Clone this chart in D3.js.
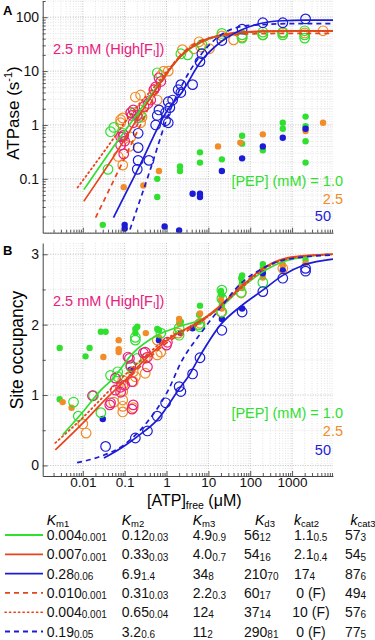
<!DOCTYPE html>
<html><head><meta charset="utf-8">
<script src="https://cdn.jsdelivr.net/npm/d3@7"></script>
<style>body{margin:0;background:#fff}svg{display:block;font-family:"Liberation Sans",Arial,sans-serif}</style>
</head><body><svg id="c" width="375" height="640"></svg>
<script>
// ---------- tick labels ----------
const xTickValues=[0.01,0.1,1,10,100,1000];
const xTickLabels=["0.01","0.1","1","10","100","1000"];
const yATickValues=[0.1,1,10,100];
const yATickLabels=["0.1","1","10","100"];
const yBTickValues=[0,1,2,3];
const yBTickLabels=["0","1","2","3"];
const yBMinorTicks=[0.5,1.5,2.5];

// ---------- Panel A: ATPase (s^-1) vs [ATP]free (uM) ----------
const aOpenGreen=[[0.04,0.15],[0.046,0.75],[0.055,0.9],[0.09,0.7],[0.17,1.7],[0.21,1.35],[0.24,1.5],[0.6,9.3],[2.2,21],[3.2,20],[7,31],[21,50],[64,47],[64,41],[200,53],[200,47],[600,53],[600,47],[2000,56],[2000,47],[2000,41]];
const aOpenOrange=[[0.07,0.26],[0.09,0.18],[0.08,1.1],[0.08,1.25],[0.09,1.35],[0.13,0.4],[0.14,0.6],[0.14,1.7],[0.18,3.3],[0.24,3.6],[0.24,1.9],[0.24,1.1],[0.26,1.4],[0.5,4.5],[0.6,2.9],[0.73,8.3],[0.86,10],[1.1,10],[2.4,25],[4.5,26],[6,35],[6.6,28],[10.6,26],[21,45],[40,38],[64,43],[200,47],[600,51],[2000,51],[5500,56]];
const aOpenMagenta=[[0.08,0.42],[0.095,0.29],[0.09,0.6],[0.095,0.65],[0.1,0.5],[0.08,0.6],[0.14,1.7],[0.15,1.5],[0.16,1.1],[0.16,1.9],[0.2,1.5],[0.29,2.2],[0.36,2.5],[0.42,2.9],[0.5,4.5],[0.55,5.1],[0.66,7.5],[0.73,6.4]];
const aOpenBlue=[[0.2,0.15],[0.21,0.22],[0.38,0.22],[0.21,0.38],[0.21,0.7],[0.55,1.0],[0.6,1.5],[0.66,1.9],[0.95,1.2],[0.95,1.7],[1.1,1.1],[1.1,2.7],[1.2,2.1],[1.4,2.9],[1.9,4.5],[2.2,4],[2.2,5.6],[4.2,5.6],[6.3,15],[7,21],[21,37],[64,60],[200,79],[600,79],[2100,93]];
const aDotGreen=[[0.03,0.014],[0.6,0.046],[0.6,0.1],[2.1,0.14],[2.1,0.17],[6.3,0.2],[6.3,0.31],[21,0.23],[64,0.45],[64,0.63],[200,0.34],[600,0.85],[600,1.1],[2100,0.2],[2100,0.5],[2100,0.95],[2100,1.43]];
const aDotOrange=[[0.095,0.07],[0.28,0.075],[0.66,0.14],[17,0.4],[58,0.47],[200,0.67],[2100,0.77],[5500,1.1]];
const aDotBlue=[[0.1,0.012],[0.1,0.014],[0.9,0.013],[2.0,0.011],[4.2,0.053],[6.3,0.046],[6.3,0.053],[21,0.14],[64,0.24],[200,0.4],[600,0.58],[2100,0.85]];
const aCurveGreen=[[0.0106,0.063],[0.067,0.5],[0.2,1.6],[0.5,4.3],[1.1,10],[2.2,19],[6.6,34],[20,46],[60,52],[200,54],[1000,55],[9500,55]];
const aCurveRed=[[0.0106,0.0385],[0.088,0.46],[0.2,1.3],[0.5,4.0],[1.1,9.8],[2.2,19],[6.6,35],[20,47],[60,53],[200,55],[1000,56],[9500,56]];
const aCurveRedDash=[[0.0202,0.019],[0.088,0.2],[0.2,0.75],[0.5,3.3],[1.1,10],[2.2,20],[5,33],[20,45],[100,49],[1000,50],[9500,50]];
const aCurveRedDot=[[0.0075,0.069],[0.0515,0.53],[0.15,1.7],[0.5,5],[1.1,10.5],[2.2,19.5],[6.6,34],[20,46],[100,53],[1000,55],[9500,55]];
const aCurveBlue=[[0.054,0.019],[0.24,0.19],[1.06,1.9],[2.2,3.8],[6.6,15],[20,35],[61,58],[200,78],[600,86],[2000,88],[9500,88]];
const aCurveBlueDash=[[0.134,0.0115],[0.4,0.14],[1.15,1.67],[2.2,5],[6.6,20],[20,47],[60,67],[200,73],[1000,76],[9500,76]];

// ---------- Panel B: Site occupancy vs [ATP]free (uM) ----------
const bOpenGreen=[[0.006,0.9],[0.0078,0.7],[0.018,0.99],[0.027,0.75],[0.046,1.28],[0.068,1.33],[0.068,1.26],[0.14,1.4],[0.18,1.82],[0.18,1.78],[0.2,1.52],[0.73,1.88],[2.0,1.95],[2.0,1.85],[6.3,1.97],[6,2.0],[21,2.18],[21,2.37],[21,2.49],[61,2.46],[200,2.6]];
const bOpenOrange=[[0.01,0.59],[0.012,0.46],[0.055,0.9],[0.09,0.76],[0.09,0.84],[0.09,0.93],[0.09,1.05],[0.09,1.14],[0.09,1.21],[0.16,0.82],[0.16,1.19],[0.16,1.33],[0.18,1.26],[0.31,1.31],[0.31,1.52],[0.6,1.57],[0.6,1.78],[0.73,1.61],[1.9,1.88],[6.3,2.02],[20,2.18],[61,2.45],[600,2.8]];
const bOpenMagenta=[[0.017,0.99],[0.044,0.86],[0.046,0.89],[0.06,1.07],[0.06,1.24],[0.08,1.04],[0.08,1.11],[0.1,1.14],[0.12,1.54],[0.13,1.52],[0.14,1.42],[0.15,0.8],[0.15,1.19],[0.16,0.86],[0.28,1.6],[0.31,1.61],[0.35,1.54],[0.35,1.4],[1.0,1.71],[1.05,1.75]];
const bOpenBlue=[[0.035,0.27],[0.18,0.39],[0.35,0.49],[0.6,0.7],[0.95,0.89],[2.0,1.12],[2.2,1.05],[4.2,1.3],[6.3,1.53],[21,1.92],[64,2.18],[200,2.47],[600,2.66],[2100,2.76],[2100,2.8]];
const bDotGreen=[[0.0028,0.94],[0.0028,1.67],[0.0116,1.55],[0.0145,1.67],[0.027,1.9],[0.035,1.9],[0.18,1.88],[0.18,1.94],[0.2,1.97],[0.6,1.94],[0.66,1.92],[2.2,2.04],[6,2.04],[6,2.14],[6.3,2.27],[20,2.43],[20,2.48],[21,2.28],[21,2.42],[61,2.55],[61,2.66],[64,2.52],[64,2.6],[64,2.7],[200,2.8],[200,2.86],[600,2.85],[2100,2.92]];
const bDotOrange=[[0.0033,0.9],[0.0054,0.82],[0.031,1.54],[0.072,1.61],[0.072,1.65],[0.072,1.78],[0.32,1.88],[0.66,1.82],[2.0,2.02],[2.0,2.08],[6.3,2.16],[20,2.35],[21,2.23],[61,2.53],[200,2.67],[200,2.76],[600,2.84],[2100,2.87]];
const bDotBlue=[[0.03,0.66],[0.14,1.36],[0.66,1.78],[2.2,1.88],[4.2,1.95],[21,2.08],[64,2.23],[200,2.73],[600,2.77]];
const bCurveGreen=[[0.0033,0.435],[0.01,0.76],[0.027,1.07],[0.05,1.22],[0.16,1.6],[0.6,1.85],[2.2,1.98],[6.6,2.07],[20,2.25],[61,2.52],[200,2.75],[650,2.9],[2000,2.96],[9500,3.0]];
const bCurveRed=[[0.0022,0.22],[0.01,0.6],[0.03,0.9],[0.106,1.22],[0.35,1.54],[1.05,1.78],[3.8,1.98],[6.6,2.06],[20,2.28],[61,2.54],[200,2.8],[650,2.94],[2000,2.98],[9500,3.0]];
const bCurveRedDash=[[0.1,1.18],[0.35,1.5],[1,1.74],[4,1.95],[10,2.12],[61,2.55],[200,2.8],[1000,2.95],[9500,3.0]];
const bCurveRedDot=[[0.0022,0.32],[0.01,0.68],[0.03,0.97],[0.1,1.28],[0.35,1.58],[1,1.8],[4,1.97],[10,2.12],[61,2.52],[200,2.78],[1000,2.95],[9500,3.0]];
const bCurveBlue=[[0.032,0.105],[0.1,0.28],[0.2,0.41],[0.61,0.65],[2.2,1.12],[3.2,1.25],[6.5,1.57],[19.6,2.0],[59,2.26],[200,2.49],[600,2.7],[2000,2.85],[9500,2.93]];
const bCurveBlueDash=[[0.0073,0.04],[0.024,0.12],[0.095,0.29],[0.35,0.62],[1.1,1.07],[2.2,1.46],[6.6,1.88],[20,2.25],[61,2.59],[200,2.8],[650,2.92],[9500,2.99]];

// ---------- Table ----------
const tableHeadMain=["K","K","K","K","k","k"];
const tableHeadSub=["m1","m2","m3","d3","cat2","cat3"];
const km1=["0.004","0.007","0.28","0.010","0.004","0.19"], km1Err=["0.001","0.001","0.06","0.001","0.001","0.05"];
const km2=["0.12","0.33","6.9","0.31","0.65","3.2"], km2Err=["0.03","0.03","1.4","0.03","0.04","0.6"];
const km3=["4.9","4.0","34","2.2","12","11"], km3Err=["0.9","0.7","8","0.3","4","2"];
const kd3=["56","54","210","60","37","290"], kd3Err=["12","16","70","17","14","81"];
const kcat2=["1.1","2.1","17","0 (F)","10 (F)","0 (F)"], kcat2Err=["0.5","0.4","4","","",""];
const kcat3=["57","54","87","49","57","77"], kcat3Err=["3","5","6","4","6","5"];

// ---------- styles ----------
const C={green:"#2fe02f",orange:"#f28c28",red:"#e8441c",blue:"#1c1cd6",magenta:"#e8207e"};
const lineStyles=[
  {c:C.green,d:null},{c:C.red,d:null},{c:C.blue,d:null},
  {c:C.red,d:"5,4"},{c:C.red,d:"1.3,3.2"},{c:C.blue,d:"5,4"}];

const svg=d3.select("#c");
svg.append("rect").attr("width",375).attr("height",640).attr("fill","#fff");
const L=42.7,R=333;
const x=d3.scaleLog().domain([0.0011,9500]).range([L,R]);
const yA=d3.scaleLog().domain([0.01,200]).range([232.7,1]);
const yB=d3.scaleLinear().domain([-0.15,3.16]).range([476,243]);
const isMajor=v=>Math.abs(Math.log10(v)-Math.round(Math.log10(v)))<1e-6;

function panel(id,y,hGrid,yMaj,yMajLab,yMin,curves,opens,dots,showXLabels){
  const [bot,top]=y.range();
  const g=svg.append("g");
  svg.append("clipPath").attr("id",id).append("rect").attr("x",L).attr("y",top).attr("width",R-L).attr("height",bot-top);
  const grid=g.append("g").attr("fill","none");
  x.ticks().forEach(v=>{
    grid.append("line").attr("x1",x(v)).attr("x2",x(v)).attr("y1",top).attr("y2",bot)
      .attr("stroke",isMajor(v)?"#b0b0b0":"#dadada").attr("stroke-width",isMajor(v)?0.8:0.7).attr("stroke-dasharray","1,1.5");
  });
  hGrid.forEach(h=>{
    grid.append("line").attr("x1",L).attr("x2",R).attr("y1",y(h.v)).attr("y2",y(h.v))
      .attr("stroke",h.major?"#b0b0b0":"#dadada").attr("stroke-width",h.major?0.8:0.7).attr("stroke-dasharray","1,1.5");
  });
  const content=g.append("g").attr("clip-path",`url(#${id})`);
  dots.forEach(s=>{
    content.append("g").selectAll("circle").data(s.data).join("circle")
      .attr("cx",d=>x(d[0])).attr("cy",d=>y(d[1])).attr("r",3.2).attr("fill",s.c);
  });
  opens.forEach(s=>{
    content.append("g").selectAll("circle").data(s.data).join("circle")
      .attr("cx",d=>x(d[0])).attr("cy",d=>y(d[1])).attr("r",4.8).attr("fill","none").attr("stroke",s.c).attr("stroke-width",1.2);
  });
  const line=d3.line().x(d=>x(d[0])).y(d=>y(d[1])).curve(d3.curveMonotoneX);
  curves.forEach(s=>{
    const dotted=s.d&&s.d.startsWith("1.3");
    content.append("path").attr("d",line(s.data)).attr("fill","none").attr("stroke",s.c)
      .attr("stroke-width",dotted?1.8:1.7).attr("stroke-dasharray",s.d).attr("stroke-linecap",dotted?"round":"butt");
  });
  const ax=g.append("g").attr("font-family","Liberation Sans, Arial, sans-serif");
  const xMaj=d3.axisBottom(x).tickValues(xTickValues).tickSizeInner(-5).tickSizeOuter(0).tickPadding(1.5)
     .tickFormat((d,i)=>showXLabels?xTickLabels[i]:"");
  const xMin=d3.axisBottom(x).tickValues(x.ticks().filter(v=>!isMajor(v))).tickSizeInner(-3).tickSizeOuter(0).tickFormat("");
  ax.append("g").attr("class","xax").attr("transform",`translate(0,${bot})`).call(xMaj);
  ax.append("g").attr("transform",`translate(0,${bot})`).call(xMin).select(".domain").remove();
  const yMajAx=d3.axisLeft(y).tickValues(yMaj).tickSizeInner(-5).tickSizeOuter(0).tickPadding(3.7).tickFormat((d,i)=>yMajLab[i]);
  const yMinAx=d3.axisLeft(y).tickValues(yMin).tickSizeInner(-3).tickSizeOuter(0).tickFormat("");
  ax.append("g").attr("transform",`translate(${L},0)`).call(yMajAx);
  ax.append("g").attr("transform",`translate(${L},0)`).call(yMinAx).select(".domain").remove();
  ax.selectAll("path.domain").attr("stroke","#444").attr("stroke-width",1);
  ax.selectAll(".tick line").attr("stroke","#444").attr("stroke-width",0.9);
  ax.selectAll(".tick text").attr("font-size",14).attr("fill","#111");
  ax.selectAll(".xax .tick text").attr("font-size",13.5);
}

const aHGrid=yA.ticks().map(v=>({v,major:isMajor(v)}));
panel("clipA",yA,aHGrid,yATickValues,yATickLabels,yA.ticks().filter(v=>!isMajor(v)),
  [{data:aCurveGreen,c:C.green},{data:aCurveRed,c:C.red},{data:aCurveRedDash,c:C.red,d:"5,4"},{data:aCurveRedDot,c:C.red,d:"1.3,3.2"},{data:aCurveBlue,c:C.blue},{data:aCurveBlueDash,c:C.blue,d:"5,4"}],
  [{data:aOpenOrange,c:C.orange},{data:aOpenGreen,c:C.green},{data:aOpenBlue,c:C.blue},{data:aOpenMagenta,c:C.magenta}],
  [{data:aDotGreen,c:C.green},{data:aDotOrange,c:C.orange},{data:aDotBlue,c:C.blue}],false);

const bHGrid=d3.range(0,3.01,0.5).map(v=>({v,major:Number.isInteger(v)}));
panel("clipB",yB,bHGrid,yBTickValues,yBTickLabels,yBMinorTicks,
  [{data:bCurveGreen,c:C.green},{data:bCurveRedDash,c:C.red,d:"5,4"},{data:bCurveRedDot,c:C.red,d:"1.3,3.2"},{data:bCurveRed,c:C.red},{data:bCurveBlue,c:C.blue},{data:bCurveBlueDash,c:C.blue,d:"5,4"}],
  [{data:bOpenOrange,c:C.orange},{data:bOpenGreen,c:C.green},{data:bOpenBlue,c:C.blue},{data:bOpenMagenta,c:C.magenta}],
  [{data:bDotGreen,c:C.green},{data:bDotOrange,c:C.orange},{data:bDotBlue,c:C.blue}],true);

// ---------- text ----------
const T=svg.append("g").attr("font-family","Liberation Sans, Arial, sans-serif");
T.append("text").attr("x",3).attr("y",15).attr("font-size",13).attr("font-weight","bold").text("A");
T.append("text").attr("x",3).attr("y",255).attr("font-size",13).attr("font-weight","bold").text("B");
function hiF(yb){
  const t=T.append("text").attr("x",53).attr("y",yb).attr("font-size",14.5).attr("fill",C.magenta);
  t.append("tspan").text("2.5 mM (High[F");
  t.append("tspan").attr("font-size",9.5).attr("dy",2).text("I");
  t.append("tspan").attr("dy",-2).text("])");
}
hiF(54); hiF(306);
function pep(y1,y2,y3){
  T.append("text").attr("x",343).attr("y",y1).attr("text-anchor","end").attr("font-size",14.5).attr("fill",C.green).text("[PEP] (mM) = 1.0");
  T.append("text").attr("x",343).attr("y",y2).attr("text-anchor","end").attr("font-size",14.5).attr("fill",C.orange).text("2.5");
  T.append("text").attr("x",331).attr("y",y3).attr("text-anchor","end").attr("font-size",14.5).attr("fill",C.blue).text("50");
}
pep(186,203.5,221); pep(418,436,454.5);
const ta=T.append("text").attr("transform","translate(19,113) rotate(-90)").attr("text-anchor","middle").attr("font-size",17);
ta.append("tspan").text("ATPase (s");
ta.append("tspan").attr("font-size",11).attr("dy",-7).text("-1");
ta.append("tspan").attr("dy",7).text(")");
T.append("text").attr("transform","translate(22.5,350) rotate(-90)").attr("text-anchor","middle").attr("font-size",17.5).text("Site occupancy");
const tx=T.append("text").attr("x",147).attr("y",506).attr("font-size",16);
tx.append("tspan").text("[ATP]");
tx.append("tspan").attr("font-size",10.5).attr("dy",3).text("free");
tx.append("tspan").attr("dy",-3).text(" (\u03BCM)");

// table
const cols=[[km1,km1Err],[km2,km2Err],[km3,km3Err],[kd3,kd3Err],[kcat2,kcat2Err],[kcat3,kcat3Err]];
const colX=[46.7,121.7,192.7,244,294,345];
const headX=[46.7,121.7,192.7,255,294,350.5];
tableHeadMain.forEach((m,i)=>{
  const t=T.append("text").attr("x",headX[i]).attr("y",524.5).attr("font-size",14);
  t.append("tspan").attr("font-style","italic").text(m);
  t.append("tspan").attr("font-size",9.5).attr("dy",2).text(tableHeadSub[i]);
});
const rowY=i=>540+i*19.3;
lineStyles.forEach((s,i)=>{
  const dotted=s.d&&s.d.startsWith("1.3");
  T.append("line").attr("x1",5).attr("x2",43).attr("y1",rowY(i)-5).attr("y2",rowY(i)-5)
    .attr("stroke",s.c).attr("stroke-width",dotted?1.6:1.8).attr("stroke-dasharray",s.d)
    .attr("stroke-linecap",dotted?"round":"butt");
});
cols.forEach(([vals,errs],c)=>{
  vals.forEach((v,r)=>{
    const isF=errs[r]==="";
    const t=T.append("text").attr("x",isF?311:colX[c]).attr("y",rowY(r)).attr("font-size",14)
      .attr("text-anchor",isF?"middle":"start").attr("fill","#111");
    t.append("tspan").text(v);
    if(!isF) t.append("tspan").attr("font-size",10).attr("dy",1.2).text(errs[r]);
  });
});
</script></body></html>
